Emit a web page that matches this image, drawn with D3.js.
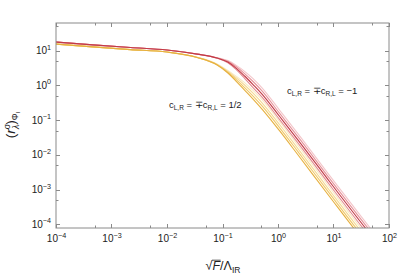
<!DOCTYPE html>
<html>
<head>
<meta charset="utf-8">
<script src="https://cdn.jsdelivr.net/npm/d3@7"></script>
<style>
  html, body { margin: 0; padding: 0; background: #fff; }
  svg { display: block; font-family: "Liberation Sans", Arial, sans-serif; }
</style>
</head>
<body>
<div id="chart"></div>
<script>
// ---- data (sqrt(F)/Lambda_IR vs (r)_Phi) ----
var xVals = [1e-4, 4.6e-4, 2.2e-3, 0.01, 0.035, 0.08, 0.125, 0.175, 0.25, 0.355, 0.515, 1.09, 2.3, 8.6, 34, 60];

// c_{L,R} = -/+ c_{R,L} = -1  (red family, left -> right in the tail)
var red0 = [17.8, 14.8, 12.4, 10.5, 8.0, 6.1, 4.5, 2.9, 1.6, 0.86, 0.459, 0.1, 0.0217, 0.00134, 7.7e-5, 2.44e-5];
var red1 = [17.8, 14.8, 12.4, 10.5, 8.0, 6.15, 4.72, 3.17, 1.87, 1.06, 0.565, 0.123, 0.0267, 0.00165, 9.5e-5, 3.0e-5];
var red2 = [17.8, 14.8, 12.4, 10.5, 8.0, 6.2, 4.95, 3.5, 2.2, 1.3, 0.695, 0.151, 0.0328, 0.00203, 1.17e-4, 3.7e-5];
var red3 = [17.8, 14.8, 12.4, 10.5, 8.05, 6.3, 5.2, 3.85, 2.55, 1.58, 0.853, 0.186, 0.0403, 0.00249, 1.43e-4, 4.5e-5];

// c_{L,R} = -/+ c_{R,L} = 1/2  (yellow family)
var yel0 = [15.6, 12.9, 10.8, 9.16, 6.36, 3.87, 2.28, 1.34, 0.736, 0.406, 0.209, 0.0473, 0.00989, 6.1e-4, 3.5e-5, 1.13e-5];
var yel1 = [15.6, 12.9, 10.8, 9.16, 6.4, 3.95, 2.4, 1.5, 0.87, 0.495, 0.257, 0.0582, 0.0122, 7.5e-4, 4.3e-5, 1.39e-5];
var yel2 = [15.6, 12.9, 10.8, 9.16, 6.45, 4.05, 2.55, 1.68, 1.03, 0.6, 0.316, 0.0714, 0.0149, 9.2e-4, 5.3e-5, 1.71e-5];
var yel3 = [15.6, 12.9, 10.8, 9.16, 6.5, 4.15, 2.7, 1.85, 1.2, 0.72, 0.389, 0.088, 0.0184, 1.13e-3, 6.5e-5, 2.1e-5];

var xDecades = [-4, -3, -2, -1, 0, 1, 2];
var yDecades = [1, 0, -1, -2, -3, -4];
var minorMult = [5];

(function () {
  var W = 400, H = 278;
  var L = 56, R = 389, T = 23, B = 228;

  var x = d3.scaleLog().domain([1e-4, 100]).range([L, R]);
  var y = d3.scaleLog().domain([7.8e-5, 63]).range([B, T]);

  var svg = d3.select("#chart").append("svg")
    .attr("width", W).attr("height", H);

  svg.append("defs").append("clipPath").attr("id", "plot")
    .append("rect").attr("x", L).attr("y", T).attr("width", R - L).attr("height", B - T);

  // ---- curves ----
  var series = [
    { v: yel3, c: "#f9ebc6" }, { v: yel2, c: "#f5da96" }, { v: yel1, c: "#f0c867" }, { v: yel0, c: "#e6b040" },
    { v: red3, c: "#f3c6ca" }, { v: red2, c: "#e6939a" }, { v: red0, c: "#e28a92" }, { v: red1, c: "#c23a46" }
  ];
  var line = d3.line()
    .x(function (d) { return x(d[0]); })
    .y(function (d) { return y(d[1]); })
    .curve(d3.curveMonotoneX);

  var g = svg.append("g").attr("clip-path", "url(#plot)");
  series.forEach(function (s) {
    g.append("path")
      .attr("d", line(xVals.map(function (xv, i) { return [xv, s.v[i]]; })))
      .attr("fill", "none").attr("stroke", s.c).attr("stroke-width", 1.1);
  });

  // ---- frame + ticks (inward on every side) ----
  var axisCol = "#8a8a8a";
  svg.append("rect").attr("x", L).attr("y", T).attr("width", R - L).attr("height", B - T)
    .attr("fill", "none").attr("stroke", axisCol).attr("stroke-width", 1);

  var xTicks = [], yTicks = [];
  xDecades.forEach(function (k) {
    xTicks.push({ v: Math.pow(10, k), major: true });
    minorMult.forEach(function (m) { if (k < 2) xTicks.push({ v: m * Math.pow(10, k), major: false }); });
  });
  yDecades.forEach(function (k) {
    yTicks.push({ v: Math.pow(10, k), major: true });
    minorMult.forEach(function (m) { yTicks.push({ v: m * Math.pow(10, k), major: false }); });
  });
  yTicks = yTicks.filter(function (t) { return t.v >= 7.8e-5 && t.v <= 63; });

  var tg = svg.append("g").attr("stroke", axisCol).attr("stroke-width", 1);
  xTicks.forEach(function (t) {
    var px = Math.round(x(t.v)) + 0.5, len = t.major ? 4 : 2.5;
    tg.append("line").attr("x1", px).attr("x2", px).attr("y1", B).attr("y2", B - len);
    tg.append("line").attr("x1", px).attr("x2", px).attr("y1", T).attr("y2", T + len);
  });
  yTicks.forEach(function (t) {
    var py = Math.round(y(t.v)) + 0.5, len = t.major ? 4 : 2.5;
    tg.append("line").attr("x1", L).attr("x2", L + len).attr("y1", py).attr("y2", py);
    tg.append("line").attr("x1", R).attr("x2", R - len).attr("y1", py).attr("y2", py);
  });

  function pow10(sel, k) {
    sel.append("tspan").text("10");
    sel.append("tspan").attr("font-size", 7.2).attr("dy", -4.5).text(k < 0 ? "\u2212" + (-k) : String(k));
  }

  // x tick labels
  xDecades.forEach(function (k) {
    svg.append("text").attr("x", x(Math.pow(10, k)) + 0.5).attr("y", 242)
      .attr("text-anchor", "middle").attr("font-size", 10).attr("fill", "#222")
      .call(pow10, k);
  });
  // y tick labels
  yDecades.forEach(function (k) {
    svg.append("text").attr("x", 51).attr("y", y(Math.pow(10, k)) + 3.5)
      .attr("text-anchor", "end").attr("font-size", 10).attr("fill", "#222")
      .call(pow10, k);
  });

  // ---- x axis title: sqrt(F)/Lambda_IR ----
  var xt = svg.append("text").attr("x", 223).attr("y", 270)
    .attr("text-anchor", "middle").attr("font-size", 12.5).attr("fill", "#222");
  xt.append("tspan").text("\u221A");
  var fSpan = xt.append("tspan").attr("font-style", "italic").text("F");
  xt.append("tspan").text("/\u039B");
  xt.append("tspan").attr("font-size", 8.5).attr("dy", 2.5).text("IR");
  var fb = fSpan.node().getExtentOfChar(0);
  svg.append("line").attr("x1", fb.x - 0.5).attr("x2", fb.x + fb.width + 0.5)
    .attr("y1", fb.y + 1.2).attr("y2", fb.y + 1.2).attr("stroke", "#222").attr("stroke-width", 0.8);

  // ---- y axis title: (r_lambda^sigma)_{Phi_I} ----
  var yt = svg.append("text").attr("transform", "translate(15,125) rotate(-90)")
    .attr("text-anchor", "middle").attr("font-size", 13.5).attr("fill", "#222");
  yt.append("tspan").text("(");
  yt.append("tspan").attr("font-style", "italic").text("r");
  yt.append("tspan").attr("font-size", 8.5).attr("dy", -5.5).text("\u03C3");
  yt.append("tspan").attr("font-size", 8.5).attr("font-style", "italic").attr("dx", -5).attr("dy", 9).text("\u03BB");
  yt.append("tspan").attr("dy", -3.5).text(")");
  yt.append("tspan").attr("font-size", 8.5).attr("dy", 3).text("\u03A6");
  yt.append("tspan").attr("font-size", 6).attr("dy", 1.5).text("I");

  // ---- in-plot annotations ----
  function coupling(xp, yp, val) {
    var t = svg.append("text").attr("x", xp).attr("y", yp).attr("font-size", 9.5).attr("fill", "#222");
    t.append("tspan").text("c");
    t.append("tspan").attr("font-size", 6.5).attr("dy", 2).text("L,R");
    t.append("tspan").attr("dy", -2).text(" = \u2213c");
    t.append("tspan").attr("font-size", 6.5).attr("dy", 2).text("R,L");
    t.append("tspan").attr("dy", -2).text(" = " + val);
  }
  coupling(169, 108, "1/2");
  coupling(287, 94, "\u22121");
})();
</script>
</body>
</html>
